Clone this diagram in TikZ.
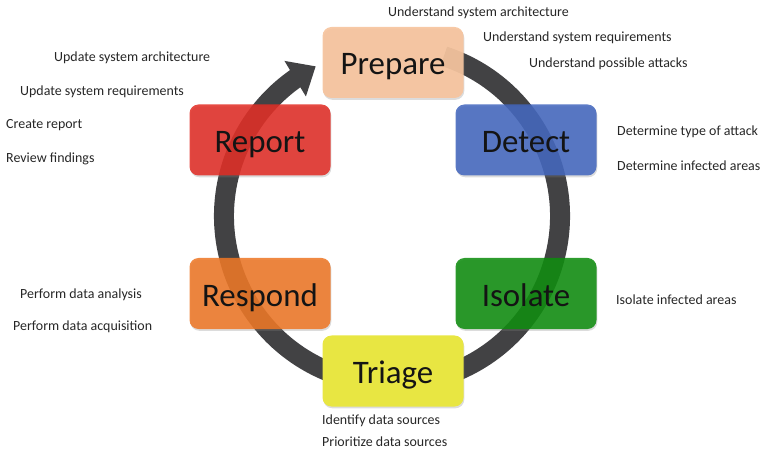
\documentclass[tikz,border=0pt]{standalone}
\usepackage{fontspec}
\setmainfont{Carlito}
\usetikzlibrary{arrows.meta,bending,shadows}
\definecolor{ringgray}{RGB}{66,66,68}
\definecolor{prepfill}{RGB}{246,196,158}
\definecolor{reportfill}{RGB}{226,44,36}
\definecolor{detectfill}{RGB}{66,102,190}
\definecolor{isolatefill}{RGB}{12,140,12}
\definecolor{respondfill}{RGB}{238,118,36}
\definecolor{triagefill}{RGB}{232,230,66}
\begin{document}
\begin{tikzpicture}[x=1bp,y=-1bp,
  phase/.style={draw=none, rounded corners=9bp, minimum width=141bp,
    minimum height=71bp, inner sep=0pt, text=black!92,
    text height=30bp, text depth=5bp,
    font=\fontsize{33}{36}\selectfont,
    drop shadow={shadow xshift=0.8bp, shadow yshift=-1.8bp, opacity=0.28}},
  seethru/.style={fill opacity=#1, text opacity=1},
  note/.style={anchor=west, inner sep=0pt, text=black!85,
    font=\fontsize{14}{16}\selectfont}]
\useasboundingbox (0,0) rectangle (764,452);

% the cycle ring with its arrow tip entering Prepare
\coordinate (ringc) at (392,216);
\draw[ringgray, line width=20bp, -{Triangle[width=40bp,length=24bp,flex]}]
  ([shift={(-72:168)}]ringc) arc[start angle=-72, end angle=243, radius=168];

% phases
\node[phase, fill=prepfill, seethru=0.92] (prepare) at (393,62.5) {Prepare};
\node[phase, fill=detectfill, seethru=0.86] (detect) at (526,140) {Detect};
\node[phase, fill=isolatefill, seethru=0.86] (isolate) at (526,293.5) {Isolate};
\node[phase, fill=triagefill] (triage) at (393,371) {Triage};
\node[phase, fill=respondfill, seethru=0.86] (respond) at (260,293.5) {Respond};
\node[phase, fill=reportfill, seethru=0.86] (report) at (260,140) {Report};

% tasks of each phase
\node[note] (p1) at (388,13) {Understand system architecture};
\node[note] (p2) at (483,38) {Understand system requirements};
\node[note] (p3) at (529,64) {Understand possible attacks};

\node[note] (d1) at (617,131.5) {Determine type of attack};
\node[note] (d2) at (617,166) {Determine infected areas};

\node[note] (i1) at (616,299.5) {Isolate infected areas};

\node[note] (t1) at (322,421) {Identify data sources};
\node[note] (t2) at (322,442) {Prioritize data sources};

\node[note] (s1) at (20,295) {Perform data analysis};
\node[note] (s2) at (13,327) {Perform data acquisition};

\node[note] (r1) at (54,58) {Update system architecture};
\node[note] (r2) at (20,92) {Update system requirements};
\node[note] (r3) at (6,125.5) {Create report};
\node[note] (r4) at (6,158.5) {Review findings};
\end{tikzpicture}
\end{document}
